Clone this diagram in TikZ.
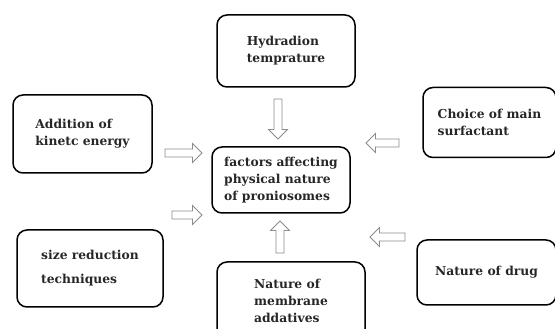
\documentclass[tikz,border=0pt]{standalone}
\usepackage{fontspec}
\setmainfont{DejaVu Serif}
\usepackage{tikz}
\usetikzlibrary{shapes.arrows}

\begin{document}
\begin{tikzpicture}[x=1pt, y=1pt,
  factor/.style={draw=black, line width=1.5pt, rounded corners=10pt, align=left,
    font=\bfseries\fontsize{12.3}{17}\selectfont, text=black!85, inner sep=0pt},
  blockarr/.style={single arrow, draw=gray!90, fill=white, line width=0.8pt,
    minimum height=#1, minimum width=19pt, single arrow head extend=5.5pt, inner sep=3.5pt},
  blockarr/.default=35pt]
  \useasboundingbox (0,0) rectangle (555,329);
  % --- Central box ---
  \node[factor, minimum width=138pt, minimum height=66pt] (centre) at (281,149)
    {factors affecting\\physical nature\\of proniosomes};
  % --- Factor boxes ---
  \node[factor, minimum width=138pt, minimum height=72pt] (hydra) at (286,278)
    {Hydradion\\temprature};
  \node[factor, minimum width=139pt, minimum height=78pt] (kinetic) at (82.5,195)
    {Addition of\\kinetc energy};
  \node[factor, minimum width=133pt, minimum height=70pt] (surf) at (489.5,206.5)
    {Choice of main\\surfactant};
  \node[factor, minimum width=146pt, minimum height=77pt] (sizered) at (90,60.5)
    {size reduction\\[7pt]techniques};
  \node[factor, minimum width=139pt, minimum height=65pt] (drug) at (486.5,56.5)
    {Nature of drug};
  \node[factor, minimum width=148pt, minimum height=78pt] (membr) at (291,28)
    {Nature of\\membrane\\addatives};
  % --- Block arrows ---
  \node[blockarr=40pt, rotate=-90] (hydraarr) at (278,212) {};
  \node[blockarr=37pt] (kineticarr) at (181.5,176) {};
  \node[blockarr=30pt] (sizeredarr) at (185,114) {};
  \node[blockarr=32pt, rotate=90] (membrarr) at (280,90) {};
  \node[blockarr=33pt, rotate=180] (surfarr) at (384.5,186) {};
  \node[blockarr=35pt, rotate=180] (drugarr) at (389.5,92) {};
\end{tikzpicture}
\end{document}
